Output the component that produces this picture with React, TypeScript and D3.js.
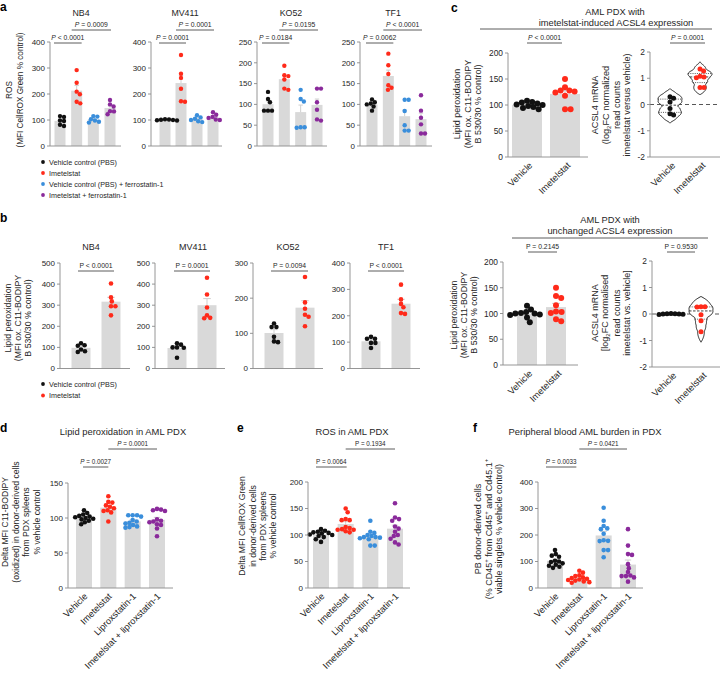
import React from "react";
import * as d3 from "d3";

const FONT = "'Liberation Sans', Arial, Helvetica, sans-serif";
const C_BLACK = "#111111";
const C_RED = "#ff2a1a";
const C_BLUE = "#3a8edb";
const C_PURPLE = "#8a2a9b";
const BAR_FILL = "#d9d9d9";
const ERR_C = "#cfcfcf";
const AXIS_C = "#8a8a8a";
const TEXT_C = "#262626";

// ---------------- Panel a data ----------------
const aCellLines = ["NB4", "MV411", "KO52", "TF1"];
const aLegend = [
  "Vehicle control (PBS)",
  "Imetelstat",
  "Vehicle control (PBS) + ferrostatin-1",
  "Imetelstat + ferrostatin-1",
];
const aNB4 = [
  [112, 115, 96, 98, 77, 82],
  [292, 243, 209, 199, 164, 170],
  [115, 113, 103, 98, 93, 90],
  [177, 160, 152, 134, 133, 122],
];
const aMV411 = [
  [98, 100, 101, 102, 103, 99],
  [350, 278, 262, 220, 170, 172],
  [118, 110, 105, 100, 95, 92],
  [130, 120, 112, 108, 102, 100],
];
const aKO52 = [
  [130, 113, 105, 85, 85, 85],
  [193, 170, 168, 160, 135, 138],
  [135, 113, 107, 44, 45, 45],
  [138, 138, 105, 87, 64, 61],
];
const aTF1 = [
  [112, 105, 102, 100, 95, 85],
  [222, 194, 173, 146, 140, 135],
  [111, 111, 84, 50, 37, 37],
  [122, 85, 68, 52, 30, 30],
];
const aPvalsLow = ["P < 0.0001", "P = 0.0001", "P = 0.0184", "P = 0.0062"];
const aPvalsHigh = ["P = 0.0009", "P = 0.0001", "P = 0.0195", "P < 0.0001"];
const aYMax = [400, 400, 250, 250];
const aYStep = [100, 100, 50, 50];

// ---------------- Panel b data ----------------
const bCellLines = ["NB4", "MV411", "KO52", "TF1"];
const bLegend = ["Vehicle control (PBS)", "Imetelstat"];
const bNB4 = [
  [120, 110, 108, 90, 82, 78],
  [403, 337, 318, 295, 295, 252],
];
const bMV411 = [
  [120, 113, 100, 100, 98, 51],
  [430, 351, 289, 252, 240, 238],
];
const bKO52 = [
  [128, 118, 118, 90, 75, 77],
  [260, 188, 170, 153, 147, 120],
];
const bTF1 = [
  [120, 113, 113, 97, 97, 78],
  [318, 262, 245, 232, 210, 207],
];
const bPvals = ["P < 0.0001", "P = 0.0001", "P = 0.0094", "P < 0.0001"];
const bYMax = [500, 500, 300, 400];

// ---------------- Panel c data ----------------
const cGroups = ["Vehicle", "Imetelstat"];
const cTopLipid = [
  [108, 106, 105, 103, 101, 100, 98, 96, 94, 92],
  [150, 134, 128, 128, 126, 124, 118, 92, 92],
];
const cTopACSL4 = [
  [0.3, 0.24, 0.1, -0.15, -0.35, -0.4],
  [1.35, 1.28, 1.08, 1.05, 1.02, 0.65, 0.65],
];
const cBotLipid = [
  [115, 108, 103, 101, 100, 100, 98, 97, 92, 83],
  [150, 134, 130, 116, 104, 103, 101, 89, 85],
];
const cBotACSL4 = [
  [0.02, 0.01, 0.0, -0.01, -0.02, 0.0, 0.01],
  [0.27, 0.27, 0.26, -0.03, -0.25, -0.67],
];
const cTopPvals = ["P < 0.0001", "P = 0.0001"];
const cBotPvals = ["P = 0.2145", "P = 0.9530"];

// ---------------- Panels d, e, f data ----------------
const defGroups = ["Vehicle", "Imetelstat", "Liproxstatin-1", "Imetelstat + liproxstatin-1"];
const dLipid = [
  [111, 107, 105, 103, 102, 101, 100, 99, 98, 96, 94, 91],
  [131, 123, 122, 118, 116, 114, 111, 110, 108, 95],
  [104, 104, 104, 102, 97, 95, 93, 92, 90, 88, 87, 86],
  [113, 112, 111, 110, 98, 96, 95, 94, 91, 90, 85, 74],
];
const eROS = [
  [111, 108, 106, 105, 104, 103, 101, 100, 98, 96, 92, 87],
  [150, 143, 130, 128, 128, 115, 113, 111, 110, 110, 107, 105],
  [127, 106, 104, 100, 98, 96, 96, 95, 94, 92, 80, 80],
  [160, 133, 130, 127, 116, 112, 106, 100, 98, 93, 86, 82],
];
const fBurden = [
  [143, 128, 122, 118, 103, 100, 98, 93, 88, 84, 80, 76],
  [65, 58, 48, 45, 40, 38, 35, 32, 30, 28, 25, 22, 20],
  [303, 254, 234, 225, 222, 205, 180, 178, 177, 143, 143, 116],
  [222, 160, 128, 125, 90, 75, 60, 47, 45, 45, 40, 24],
];
const dPvals = ["P = 0.0027", "P = 0.0001"];
const ePvals = ["P = 0.0064", "P = 0.1934"];
const fPvals = ["P = 0.0033", "P = 0.0421"];

const COL4 = [C_BLACK, C_RED, C_BLUE, C_PURPLE];
const COL2 = [C_BLACK, C_RED];

// ---------------- helpers ----------------
function swarm(vals: number[], yf: (v: number) => number, cx: number, r: number, sep = 0.88) {
  const pts = vals.map((v) => ({ v, y: yf(v), x: 0 }));
  const order = pts.slice().sort((a, b) => a.y - b.y);
  const placed: { x: number; y: number }[] = [];
  const d = 2 * r * sep;
  for (const p of order) {
    let best = 0;
    for (let k = 0; k < 400; k++) {
      const off = (k % 2 === 1 ? 1 : -1) * Math.ceil(k / 2) * 0.4 + 0;
      const ok = placed.every((q) => (q.x - off) ** 2 + (q.y - p.y) ** 2 >= d * d);
      if (ok) {
        best = off;
        break;
      }
    }
    p.x = best;
    placed.push(p);
  }
  return pts.map((p) => ({ x: cx + p.x, y: p.y }));
}

function PLabel({ x, y, label, size, italic }: any) {
  return (
    <text x={x} y={y} fontSize={size} textAnchor="middle" fill={TEXT_C} fontFamily={FONT}>
      <tspan fontStyle={italic ? "italic" : "normal"}>P</tspan>
      {label.slice(1)}
    </text>
  );
}

function Bracket({ x1, x2, y, label, size, italic }: any) {
  return (
    <g>
      <line x1={x1} x2={x2} y1={y} y2={y} stroke="#333" strokeWidth={0.8} />
      <PLabel x={(x1 + x2) / 2} y={y - 2.6} label={label} size={size} italic={italic} />
    </g>
  );
}

function YLabel({ xs, cy, lines, size }: any) {
  return (
    <g>
      {lines.map((ln: any, i: number) => (
        <text
          key={i}
          transform={`translate(${xs[i]},${cy}) rotate(-90)`}
          textAnchor="middle"
          fontSize={size}
          fill={TEXT_C}
          fontFamily={FONT}
        >
          {ln}
        </text>
      ))}
    </g>
  );
}

function BarDotPanel(p: any) {
  const {
    axisX, endX, yTop, yBot, max, step, firstX, lastX, barW, r, groups, colors,
    brackets = [], pSize = 6.8, pItalic = true, tickSize = 8,
    title, titleX, titleY, titleSize = 8.8, xLabels, xLabelSize = 9, xLabelDx = 5, xLabelDy = 8,
  } = p;
  const y = d3.scaleLinear().domain([0, max]).range([yBot, yTop]);
  const x = d3.scalePoint<number>().domain(d3.range(groups.length)).range([firstX, lastX]);
  const ticks = d3.range(0, max + step / 2, step);
  return (
    <g>
      {groups.map((g: number[], i: number) => {
        const m = d3.mean(g) as number;
        const se = (d3.deviation(g) as number) / Math.sqrt(g.length);
        const cx = x(i) as number;
        return (
          <g key={"b" + i}>
            <rect x={cx - barW / 2} y={y(m)} width={barW} height={yBot - y(m)} fill={BAR_FILL} />
            <line x1={cx} x2={cx} y1={y(m)} y2={y(m + se)} stroke={ERR_C} strokeWidth={1} />
            <line x1={cx - barW * 0.2} x2={cx + barW * 0.2} y1={y(m + se)} y2={y(m + se)} stroke={ERR_C} strokeWidth={1} />
          </g>
        );
      })}
      {groups.map((g: number[], i: number) =>
        swarm(g, y, x(i) as number, r).map((pt, k) => (
          <circle key={"d" + i + "_" + k} cx={pt.x} cy={pt.y} r={r} fill={colors[i]} />
        ))
      )}
      <line x1={axisX} x2={axisX} y1={yTop} y2={yBot} stroke={AXIS_C} strokeWidth={0.9} />
      <line x1={axisX} x2={endX} y1={yBot} y2={yBot} stroke={AXIS_C} strokeWidth={0.9} />
      {ticks.map((t: number) => (
        <g key={"t" + t}>
          <line x1={axisX - 3} x2={axisX} y1={y(t)} y2={y(t)} stroke={AXIS_C} strokeWidth={0.9} />
          <text x={axisX - 5} y={y(t) + tickSize * 0.36} textAnchor="end" fontSize={tickSize} fill={TEXT_C} fontFamily={FONT}>
            {t}
          </text>
        </g>
      ))}
      {brackets.map((b: any, k: number) => (
        <Bracket
          key={"br" + k}
          x1={(x(b.i) as number) + (b.dx1 ?? -4)}
          x2={(x(b.j) as number) + (b.dx2 ?? 3)}
          y={b.y}
          label={b.label}
          size={pSize}
          italic={pItalic}
        />
      ))}
      {title && (
        <text x={titleX} y={titleY} textAnchor="middle" fontSize={titleSize} fill={TEXT_C} fontFamily={FONT}>
          {title}
        </text>
      )}
      {xLabels &&
        xLabels.map((lb: string, i: number) => (
          <text
            key={"xl" + i}
            transform={`translate(${(x(i) as number) + xLabelDx},${yBot + xLabelDy}) rotate(-45)`}
            textAnchor="end"
            fontSize={xLabelSize}
            fill={TEXT_C}
            fontFamily={FONT}
          >
            {lb}
          </text>
        ))}
    </g>
  );
}

function ViolinPanel(p: any) {
  const { axisX, endX, yTop, yBot, firstX, lastX, groups, colors, r, halfWs, bracket, pSize = 6.8, pItalic, xLabels, xLabelSize = 9.3 } = p;
  const y = d3.scaleLinear().domain([-2, 2]).range([yBot, yTop]);
  const x = d3.scalePoint<number>().domain(d3.range(groups.length)).range([firstX, lastX]);
  const ticks = [-2, -1, 0, 1, 2];
  return (
    <g>
      <line x1={axisX} x2={720} y1={y(0)} y2={y(0)} stroke="#444" strokeWidth={0.9} strokeDasharray="4,3" />
      {groups.map((g: number[], i: number) => {
        const cx = x(i) as number;
        const halfW = halfWs[i];
        const n = g.length;
        const sd = (d3.deviation(g) as number) || 0.01;
        const h = Math.max(1.4 * 1.06 * sd * Math.pow(n, -0.2), 0.02);
        const lo = (d3.min(g) as number) - h;
        const hi = (d3.max(g) as number) + h;
        const dens = (t: number) =>
          d3.sum(g, (v) => {
            const u = (t - v) / h;
            return Math.abs(u) < 1 ? 0.75 * (1 - u * u) : 0;
          });
        const grid = d3.range(0, 81).map((k) => lo + ((hi - lo) * k) / 80);
        const dv = grid.map(dens);
        const maxD = d3.max(dv) as number;
        const w = (dd: number) => (dd / maxD) * halfW;
        const area = d3
          .area<number>()
          .y((k) => y(grid[k]))
          .x0((k) => cx - w(dv[k]))
          .x1((k) => cx + w(dv[k]))
          .curve(d3.curveBasis);
        const sorted = g.slice().sort(d3.ascending);
        const med = d3.quantile(sorted, 0.5) as number;
        const q1 = d3.quantile(sorted, 0.25) as number;
        const q3 = d3.quantile(sorted, 0.75) as number;
        const pts = swarm(g, y, cx, r, 0.75);
        return (
          <g key={"v" + i}>
            <path d={area(d3.range(grid.length)) as string} fill="white" stroke="#111" strokeWidth={0.9} />
            <line x1={cx - w(dens(med))} x2={cx + w(dens(med))} y1={y(med)} y2={y(med)} stroke="#111" strokeWidth={0.8} strokeDasharray="2.5,1.5" />
            {[q1, q3].map((q, k) => (
              <line key={k} x1={cx - w(dens(q))} x2={cx + w(dens(q))} y1={y(q)} y2={y(q)} stroke="#111" strokeWidth={0.7} strokeDasharray="1,1.2" />
            ))}
            {pts.map((pt, k) => (
              <circle key={k} cx={pt.x} cy={pt.y} r={r} fill={colors[i]} />
            ))}
          </g>
        );
      })}
      <line x1={axisX} x2={axisX} y1={yTop} y2={yBot} stroke={AXIS_C} strokeWidth={0.9} />
      <line x1={axisX} x2={endX} y1={yBot} y2={yBot} stroke={AXIS_C} strokeWidth={0.9} />
      {ticks.map((t) => (
        <g key={"t" + t}>
          <line x1={axisX - 3} x2={axisX} y1={y(t)} y2={y(t)} stroke={AXIS_C} strokeWidth={0.9} />
          <text x={axisX - 5} y={y(t) + 3} textAnchor="end" fontSize={8.4} fill={TEXT_C} fontFamily={FONT}>
            {t < 0 ? "-" + Math.abs(t) : t}
          </text>
        </g>
      ))}
      <Bracket
        x1={(x(0) as number) + bracket.dx1}
        x2={(x(1) as number) + bracket.dx2}
        y={bracket.y}
        label={bracket.label}
        size={pSize}
        italic={pItalic}
      />
      {xLabels.map((lb: string, i: number) => (
        <text
          key={"xl" + i}
          transform={`translate(${(x(i) as number) + 6},${yBot + 9}) rotate(-45)`}
          textAnchor="end"
          fontSize={xLabelSize}
          fill={TEXT_C}
          fontFamily={FONT}
        >
          {lb}
        </text>
      ))}
    </g>
  );
}

function PanelLetter({ x, y, t }: any) {
  return (
    <text x={x} y={y} fontSize={12} fontWeight="bold" fill="#000" fontFamily={FONT}>
      {t}
    </text>
  );
}

function Legend({ x, y0, dy, labels, colors }: any) {
  return (
    <g>
      {labels.map((lb: string, i: number) => (
        <g key={i}>
          <circle cx={x} cy={y0 + i * dy} r={1.9} fill={colors[i]} />
          <text x={x + 6} y={y0 + i * dy + 2.5} fontSize={7.2} fill={TEXT_C} fontFamily={FONT}>
            {lb}
          </text>
        </g>
      ))}
    </g>
  );
}

const layoutA = [
  { axisX: 50, endX: 121, firstX: 60, lastX: 110, titleX: 81 },
  { axisX: 151, endX: 222, firstX: 165, lastX: 213, titleX: 185 },
  { axisX: 257, endX: 327, firstX: 268, lastX: 317, titleX: 291 },
  { axisX: 360, endX: 432, firstX: 372, lastX: 421, titleX: 393 },
];
const layoutB = [
  { axisX: 60, endX: 130, firstX: 81, lastX: 111, titleX: 91 },
  { axisX: 155, endX: 225, firstX: 177, lastX: 207, titleX: 193 },
  { axisX: 253, endX: 323, firstX: 274, lastX: 305, titleX: 288 },
  { axisX: 350, endX: 420, firstX: 371, lastX: 401, titleX: 386 },
];

export default function App() {
  const aData = [aNB4, aMV411, aKO52, aTF1];
  const bData = [bNB4, bMV411, bKO52, bTF1];
  const sub = (t: string) => (
    <tspan dy={1.8} fontSize={6}>
      {t}
    </tspan>
  );
  const sup = (t: string) => (
    <tspan dy={-3.2} fontSize={6}>
      {t}
    </tspan>
  );
  return (
    <svg
      width={722}
      height={676}
      viewBox="0 0 722 676"
      style={{ position: "absolute", left: 0, top: 0, background: "#fff" }}
      fontFamily={FONT}
    >
      <rect width={722} height={676} fill="#fff" />
      {/* ---------- a ---------- */}
      <PanelLetter x={0} y={11} t="a" />
      <YLabel xs={[12, 23]} cy={90} lines={["ROS", "(MFI CellROX Green % control)"]} size={8.2} />
      {aCellLines.map((name, i) => (
        <BarDotPanel
          key={"a" + i}
          {...layoutA[i]}
          yTop={42}
          yBot={146}
          max={aYMax[i]}
          step={aYStep[i]}
          barW={11}
          r={2.2}
          groups={aData[i]}
          colors={COL4}
          title={name}
          titleY={16}
          brackets={[
            { i: 0, j: 1, y: 43, label: aPvalsLow[i], dx1: -6, dx2: 5 },
            { i: 1, j: 3, y: 30, label: aPvalsHigh[i], dx1: -5, dx2: 1 },
          ]}
        />
      ))}
      <Legend x={43} y0={162} dy={11} labels={aLegend} colors={COL4} />

      {/* ---------- b ---------- */}
      <PanelLetter x={0} y={222} t="b" />
      <YLabel
        xs={[11, 21, 31]}
        cy={318}
        lines={["Lipid peroxidation", "(MFI ox. C11-BODIPY", "B 530/30 % control)"]}
        size={8.8}
      />
      {bCellLines.map((name, i) => (
        <BarDotPanel
          key={"b" + i}
          {...layoutB[i]}
          yTop={263}
          yBot={368.5}
          max={bYMax[i]}
          step={100}
          barW={19}
          r={2.3}
          groups={bData[i]}
          colors={COL2}
          title={name}
          titleY={250}
          titleSize={9}
          pItalic={false}
          brackets={[{ i: 0, j: 1, y: 271, label: bPvals[i], dx1: -3, dx2: 3 }]}
        />
      ))}
      <Legend x={43} y0={384} dy={11.5} labels={bLegend} colors={COL2} />

      {/* ---------- c top ---------- */}
      <PanelLetter x={451} y={12} t="c" />
      <text x={615} y={15} textAnchor="middle" fontSize={9.3} fill={TEXT_C}>
        AML PDX with
      </text>
      <text x={616} y={25.5} textAnchor="middle" fontSize={9.3} fill={TEXT_C}>
        imetelstat-induced ACSL4 expression
      </text>
      <line x1={480} x2={712} y1={29} y2={29} stroke="#333" strokeWidth={0.8} />
      <YLabel
        xs={[460, 471, 481]}
        cy={104}
        lines={["Lipid peroxidation", "(MFI ox. C11-BODIPY", "B 530/30 % control)"]}
        size={9}
      />
      <BarDotPanel
        axisX={508}
        endX={588}
        yTop={53}
        yBot={157}
        max={200}
        step={50}
        firstX={527}
        lastX={565}
        barW={30}
        r={3}
        groups={cTopLipid}
        colors={COL2}
        tickSize={8.4}
        xLabels={cGroups}
        xLabelSize={9.3}
        xLabelDx={6}
        xLabelDy={9}
        brackets={[{ i: 0, j: 1, y: 43, label: cTopPvals[0], dx1: 0, dx2: -3 }]}
      />
      <YLabel
        xs={[598, 609, 620, 630]}
        cy={105}
        lines={[
          "ACSL4 mRNA",
          <>
            (log{sub("2")}
            <tspan dy={-1.8}>FC normalized</tspan>
          </>,
          "read counts",
          "imetelstat versus vehicle)",
        ]}
        size={9.2}
      />
      <ViolinPanel
        axisX={650}
        endX={720}
        yTop={52}
        yBot={157}
        firstX={670}
        lastX={700}
        groups={cTopACSL4}
        colors={COL2}
        r={2.5}
        halfWs={[12, 12]}
        pItalic={true}
        bracket={{ y: 43, label: cTopPvals[1], dx1: 0, dx2: 5 }}
        xLabels={cGroups}
      />

      {/* ---------- c bottom ---------- */}
      <text x={610} y={223} textAnchor="middle" fontSize={9.3} fill={TEXT_C}>
        AML PDX with
      </text>
      <text x={610} y={234} textAnchor="middle" fontSize={9.3} fill={TEXT_C}>
        unchanged ACSL4 expression
      </text>
      <line x1={512} x2={708} y1={238} y2={238} stroke="#333" strokeWidth={0.8} />
      <YLabel
        xs={[457, 467, 477]}
        cy={315}
        lines={["Lipid peroxidation", "(MFI ox. C11-BODIPY", "B 530/30 % control)"]}
        size={8.8}
      />
      <BarDotPanel
        axisX={503}
        endX={578}
        yTop={262}
        yBot={365}
        max={200}
        step={50}
        firstX={527}
        lastX={556}
        barW={20}
        r={3}
        groups={cBotLipid}
        colors={COL2}
        tickSize={8.4}
        pItalic={false}
        xLabels={cGroups}
        xLabelSize={9.3}
        xLabelDx={6}
        xLabelDy={9}
        brackets={[{ i: 0, j: 1, y: 252, label: cBotPvals[0], dx1: 1, dx2: 1 }]}
      />
      <YLabel
        xs={[598, 608, 620, 630]}
        cy={313}
        lines={[
          "ACSL4 mRNA",
          <>
            [log{sub("2")}
            <tspan dy={-1.8}>FC normalised</tspan>
          </>,
          "read counts",
          "imetelstat vs. vehicle]",
        ]}
        size={9}
      />
      <ViolinPanel
        axisX={652}
        endX={720}
        yTop={261}
        yBot={367}
        firstX={671}
        lastX={701}
        groups={cBotACSL4}
        colors={COL2}
        r={2.5}
        halfWs={[9, 12]}
        pItalic={false}
        bracket={{ y: 252, label: cBotPvals[1], dx1: -4, dx2: -6 }}
        xLabels={cGroups}
      />

      {/* ---------- d ---------- */}
      <PanelLetter x={0} y={432} t="d" />
      <text x={123} y={435} textAnchor="middle" fontSize={9.4} fill={TEXT_C}>
        Lipid peroxidation in AML PDX
      </text>
      <YLabel
        xs={[8, 18.5, 29, 40]}
        cy={522}
        lines={["Delta MFI C11-BODIPY", "(oxidized) in donor-derived cells", "from PDX spleens", "% vehicle control"]}
        size={8.6}
      />
      <BarDotPanel
        axisX={68}
        endX={173}
        yTop={483}
        yBot={588}
        max={150}
        step={50}
        firstX={84}
        lastX={157}
        barW={16}
        r={2.3}
        groups={dLipid}
        colors={COL4}
        pSize={6.3}
        xLabels={defGroups}
        xLabelSize={9.2}
        xLabelDx={4}
        xLabelDy={9}
        brackets={[
          { i: 0, j: 1, y: 467, label: dPvals[0], dx1: -1, dx2: 0 },
          { i: 1, j: 3, y: 449, label: dPvals[1], dx1: 0, dx2: 0 },
        ]}
      />

      {/* ---------- e ---------- */}
      <PanelLetter x={237} y={432} t="e" />
      <text x={352} y={435} textAnchor="middle" fontSize={9.4} fill={TEXT_C}>
        ROS in AML PDX
      </text>
      <YLabel
        xs={[245, 256, 266, 276]}
        cy={526}
        lines={["Delta MFI CellROX Green", "in donor-derived cells", "from PDX spleens", "% vehicle control"]}
        size={8.6}
      />
      <BarDotPanel
        axisX={308}
        endX={410}
        yTop={482}
        yBot={588}
        max={200}
        step={50}
        firstX={321}
        lastX={395}
        barW={16}
        r={2.3}
        groups={eROS}
        colors={COL4}
        pSize={6.3}
        pItalic={false}
        xLabels={defGroups}
        xLabelSize={9.2}
        xLabelDx={4}
        xLabelDy={9}
        brackets={[
          { i: 0, j: 1, y: 467, label: ePvals[0], dx1: -5, dx2: 1 },
          { i: 1, j: 3, y: 449, label: ePvals[1], dx1: 0, dx2: 0 },
        ]}
      />

      {/* ---------- f ---------- */}
      <PanelLetter x={473} y={432} t="f" />
      <text x={585} y={435} textAnchor="middle" fontSize={9.4} fill={TEXT_C}>
        Peripheral blood AML burden in PDX
      </text>
      <YLabel
        xs={[481, 491.5, 502]}
        cy={529}
        lines={[
          "PB donor-derived cells",
          <>
            (% CD45{sup("+")}
            <tspan dy={3.2}> from Cd45</tspan>
            {sup("+")}
            <tspan dy={3.2}> and Cd45.1</tspan>
            {sup("+")}
          </>,
          "viable singlets % vehicle control)",
        ]}
        size={9}
      />
      <BarDotPanel
        axisX={538}
        endX={643}
        yTop={482}
        yBot={588}
        max={400}
        step={100}
        firstX={555}
        lastX={628}
        barW={16}
        r={2.3}
        groups={fBurden}
        colors={COL4}
        pSize={6.3}
        xLabels={defGroups}
        xLabelSize={9.2}
        xLabelDx={4}
        xLabelDy={9}
        brackets={[
          { i: 0, j: 1, y: 467, label: fPvals[0], dx1: -9, dx2: -3 },
          { i: 1, j: 3, y: 449, label: fPvals[1], dx1: 0, dx2: -1 },
        ]}
      />
    </svg>
  );
}
